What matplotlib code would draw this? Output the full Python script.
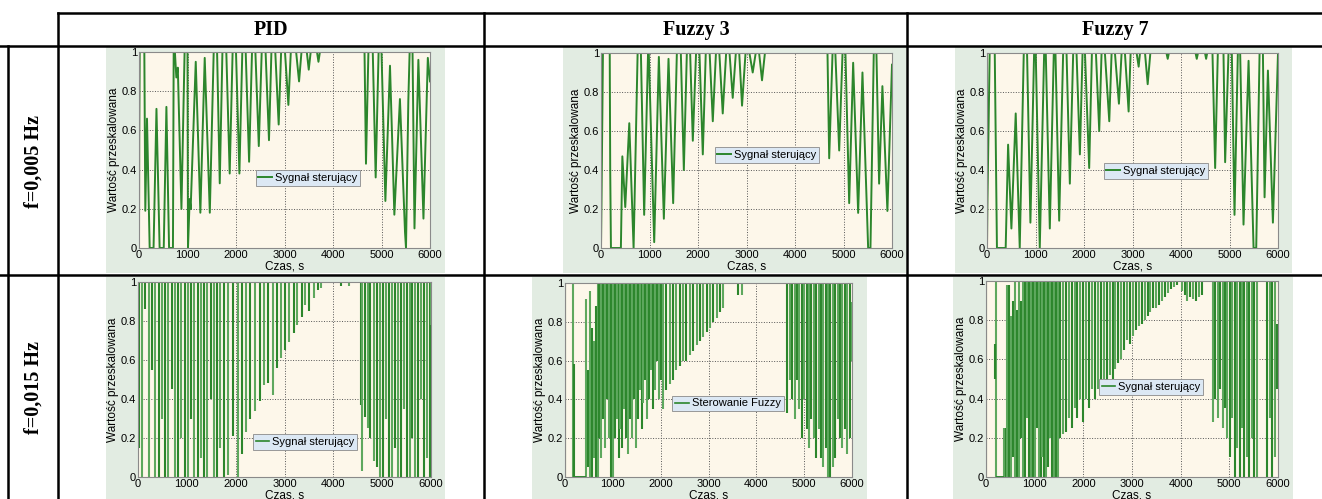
import matplotlib.pyplot as plt
from matplotlib.patches import Rectangle

col_titles = ['PID', 'Fuzzy 3', 'Fuzzy 7']
row_titles = ['f=0,005 Hz', 'f=0,015 Hz']
legend_labels = ['Sygnał sterujący', 'Sygnał sterujący', 'Sygnał sterujący',
                 'Sygnał sterujący', 'Sterowanie Fuzzy', 'Sygnał sterujący']
x_ticks = [0, 1000, 2000, 3000, 4000, 5000, 6000]
y_ticks = [0, 0.2, 0.4, 0.6, 0.8, 1]
y_tick_labels = ['0', '0.2', '0.4', '0.6', '0.8', '1']

# f = 0.005 Hz, signal vertices (time s, value)
pid_005_t = [0, 5, 15, 110, 130, 165, 220, 300, 360, 425, 510, 565, 620, 700, 715, 740, 770, 800, 875, 940,
             1000, 1010, 1045, 1065, 1170, 1265, 1355, 1460, 1540, 1610, 1665, 1720, 1800, 1870, 1930, 2000,
             2070, 2130, 2200, 2270, 2330, 2400, 2470, 2530, 2610, 2680, 2730, 2810, 2880, 2930, 3010, 3080,
             3130, 3240, 3300, 3350, 3460, 3500, 3540, 3670, 3700, 3730, 4650, 4680, 4730, 4820, 4880, 4940,
             5000, 5080, 5175, 5265, 5380, 5485, 5505, 5553, 5580, 5640, 5680, 5760, 5865, 5955, 6000]
pid_005_y = [0, 0.55, 1, 1, 0.19, 0.66, 0, 0, 0.71, 0, 0, 0.72, 0, 0, 1, 1, 0.87, 0.92, 0.2, 1,
             1, 0, 0.25, 0.2, 0.95, 0.18, 0.97, 0.18, 1, 1, 0.33, 1, 1, 0.38, 1, 1,
             0.38, 1, 1, 0.44, 1, 1, 0.52, 1, 1, 0.55, 1, 1, 0.63, 1, 1, 0.73,
             1, 1, 0.85, 1, 1, 0.91, 1, 1, 0.95, 1, 1, 0.43, 1, 1, 0.36, 1,
             1, 0.24, 0.93, 0.17, 0.76, 0.08, 0, 0.75, 1, 1, 0.1, 0.96, 0.15, 0.97, 0.85]

fz3_005_t = [0, 10, 40, 180, 190, 205, 410, 440, 500, 583, 672, 755, 823, 890, 970, 985, 1097, 1193, 1296, 1392,
             1488, 1564, 1646, 1708, 1770, 1838, 1893, 1960, 2030, 2099, 2160, 2240, 2305, 2370, 2440, 2510,
             2580, 2650, 2716, 2780, 2850, 2908, 2980, 3060, 3128, 3190, 3260, 3320, 3380, 4670, 4705, 4774,
             4832, 4911, 4980, 5040, 5117, 5199, 5302, 5391, 5508, 5556, 5624, 5679, 5734, 5802, 5905, 6000]
fz3_005_y = [0, 0.23, 1, 1, 0.4, 0, 0, 0.47, 0.21, 0.64, 0, 1, 1, 0.17, 1, 1, 0.03, 0.98, 0.15, 0.97,
             0.23, 1, 1, 0.4, 1, 1, 0.55, 1, 1, 0.48, 1, 1, 0.65, 1, 1, 0.69,
             1, 1, 0.77, 1, 1, 0.73, 1, 1, 0.9, 1, 1, 0.86, 1, 1, 0.46, 1,
             1, 0.5, 1, 1, 0.23, 0.95, 0.18, 0.9, 0, 0, 1, 1, 0.33, 0.83, 0.19, 0.94]

fz7_005_t = [0, 10, 55, 160, 205, 385, 435, 503, 592, 675, 758, 826, 895, 971, 1005, 1088, 1178, 1212, 1295, 1377,
             1412, 1488, 1570, 1640, 1708, 1777, 1846, 1915, 1970, 2020, 2107, 2163, 2246, 2314, 2362, 2431,
             2521, 2569, 2638, 2720, 2775, 2844, 2920, 2961, 3085, 3127, 3155, 3258, 3313, 3368, 3700, 3726,
             3750, 4300, 4325, 4350, 4495, 4518, 4540, 4649, 4704, 4759, 4876, 4910, 4979, 5048, 5103, 5172,
             5220, 5289, 5393, 5496, 5551, 5620, 5689, 5723, 5792, 5895, 6000]
fz7_005_y = [0, 0.25, 1, 1, 0, 0, 0.53, 0.1, 0.69, 0, 1, 1, 0.13, 1, 1, 0, 1, 1, 0.1, 1,
             1, 0.14, 1, 1, 0.33, 1, 1, 0.48, 1, 1, 0.41, 1, 1, 0.6, 1, 1,
             0.65, 1, 1, 0.74, 1, 1, 0.7, 1, 1, 0.93, 1, 1, 0.84, 1, 1, 0.97,
             1, 1, 0.97, 1, 1, 0.97, 1, 1, 0.41, 1, 1, 0.44, 1, 1, 0.17, 1,
             1, 0.12, 0.96, 0, 0, 1, 1, 0.26, 0.91, 0.13, 1]

# f = 0.015 Hz, swings (time s, low, high) and flat parts (value, from, to)
pid_015_t = [20, 87, 153, 220, 287, 353, 420, 487, 553, 620, 687, 753, 820, 887, 953, 1020, 1087, 1153,
             1220, 1287, 1353, 1420, 1487, 1553, 1620, 1687, 1753, 1850, 1955, 2040, 2120, 2210, 2300,
             2390, 2490, 2590, 2670, 2760, 2840, 2930, 3010, 3100, 3190, 3260, 3350, 3430, 3510, 3600,
             3690, 3750, 4150, 4330, 4560, 4590, 4645, 4700, 4760, 4830, 4890, 4960, 5020, 5080, 5140,
             5200, 5260, 5320, 5380, 5440, 5500, 5560, 5620, 5680, 5740, 5800, 5860, 5920, 5970, 6000]
pid_015_lo = [0.15, 0, 0.86, 0, 0.55, 0, 0, 0.3, 0, 0, 0.45, 0, 0, 0.2, 0, 0, 0.3, 0,
              0, 0.1, 0, 0, 0.4, 0, 0, 0.15, 0, 0.01, 0.21, 0, 0.12, 0.23, 0.3,
              0.34, 0.39, 0.47, 0.48, 0.42, 0.56, 0.61, 0.65, 0.69, 0.74, 0.78, 0.82, 0.88, 0.85, 0.92,
              0.96, 0.97, 0.98, 0.98, 0.37, 0.03, 0.31, 0.25, 0.2, 0.08, 0.05, 0, 0, 0.3, 0,
              0, 0.15, 0, 0, 0.35, 0, 0, 0.2, 0, 0, 0.4, 0, 0.1, 0, 0.78]
pid_015_hi = [1] * len(pid_015_t)
pid_015_flat = [(1, 0, 6000)]

fz3_015_t = [0, 170, 190, 440, 480, 520, 560, 600, 640, 680, 720, 760, 800, 840, 880, 920, 960, 1000,
             1040, 1080, 1120, 1160, 1200, 1240, 1280, 1320, 1360, 1400, 1440, 1480, 1520, 1560, 1600,
             1640, 1680, 1720, 1760, 1800, 1840, 1880, 1920, 1960, 2000, 2050, 2120, 2190, 2260, 2330,
             2400, 2470, 2540, 2610, 2680, 2750, 2820, 2890, 2960, 3030, 3100, 3170, 3240, 3310, 3620,
             3700, 4650, 4700, 4750, 4800, 4850, 4900, 4950, 5000, 5050, 5100, 5150, 5200, 5250, 5300,
             5350, 5400, 5450, 5500, 5550, 5600, 5650, 5700, 5750, 5800, 5850, 5900, 5950, 6000]
fz3_015_lo = [0, 0, 0, 0, 0.05, 0, 0, 0.1, 0, 0, 0.2, 0.1, 0.3, 0.15, 0.4, 0.2, 0, 0,
              0.2, 0.3, 0.1, 0.25, 0.15, 0.35, 0.2, 0.12, 0.3, 0.2, 0.4, 0.15, 0.3, 0.45, 0.25,
              0.38, 0.5, 0.3, 0.4, 0.55, 0.35, 0.45, 0.6, 0.4, 0.5, 0.35, 0.45, 0.48, 0.5, 0.55,
              0.57, 0.6, 0.6, 0.63, 0.65, 0.68, 0.7, 0.72, 0.75, 0.77, 0.8, 0.82, 0.85, 0.87, 0.94,
              0.94, 0.33, 0.5, 0.4, 0.3, 0.5, 0.35, 0.2, 0.4, 0.25, 0.15, 0.3, 0.2, 0.1, 0.25,
              0.1, 0.05, 0.15, 0, 0, 0.05, 0.1, 0.3, 0.2, 0.15, 0.25, 0.12, 0.2, 0.6]
fz3_015_hi = [1, 1, 0.58, 0.92, 0.55, 0.96, 0.77, 0.7, 0.88, 1, 1, 1, 1, 1, 1, 1, 1, 1,
              1, 1, 1, 1, 1, 1, 1, 1, 1, 1, 1, 1, 1, 1, 1,
              1, 1, 1, 1, 1, 1, 1, 1, 1, 1, 1, 1, 1, 1, 1,
              1, 1, 1, 1, 1, 1, 1, 1, 1, 1, 1, 1, 1, 1, 1,
              1, 1, 1, 1, 1, 1, 1, 1, 1, 1, 1, 1, 1, 1, 1,
              1, 1, 1, 1, 1, 1, 1, 1, 1, 1, 1, 1, 1, 0.9]
fz3_015_flat = [(1, 0, 170), (0, 170, 440), (1, 680, 6000)]

fz7_015_t = [0, 200, 175, 380, 410, 440, 480, 520, 560, 600, 640, 680, 720, 760, 800, 840, 880, 920,
             960, 1000, 1040, 1080, 1120, 1160, 1200, 1240, 1280, 1320, 1360, 1400, 1440, 1480, 1520,
             1580, 1640, 1700, 1760, 1820, 1880, 1940, 2000, 2060, 2120, 2180, 2240, 2300, 2360, 2420,
             2480, 2540, 2600, 2660, 2720, 2780, 2840, 2900, 2960, 3020, 3080, 3140, 3200, 3260, 3320,
             3380, 3440, 3500, 3560, 3620, 3680, 3740, 3800, 3860, 3920, 4020, 4080, 4140, 4200, 4260,
             4320, 4380, 4440, 4660, 4710, 4760, 4810, 4860, 4910, 4960, 5010, 5060, 5110, 5160, 5210,
             5260, 5310, 5360, 5410, 5460, 5510, 5560, 5780, 5830, 5880, 5930, 5980]
fz7_015_lo = [0, 0, 0.5, 0, 0, 0, 0, 0, 0.1, 0, 0, 0, 0.2, 0, 0, 0.3, 0, 0,
              0, 0, 0.25, 0, 0, 0.1, 0, 0, 0.05, 0.2, 0, 0, 0, 0, 0.2,
              0.22, 0.23, 0.3, 0.25, 0.35, 0.3, 0.4, 0.28, 0.4, 0.35, 0.45, 0.4, 0.45, 0.42, 0.5,
              0.48, 0.52, 0.5, 0.55, 0.58, 0.6, 0.65, 0.7, 0.68, 0.72, 0.75, 0.77, 0.78, 0.8, 0.82,
              0.84, 0.86, 0.86, 0.88, 0.9, 0.92, 0.94, 0.96, 0.97, 0.98, 0.95, 0.93, 0.9, 0.92, 0.91,
              0.9, 0.92, 0.93, 0.28, 0.4, 0.3, 0.45, 0.25, 0.35, 0.2, 0.1, 0.3, 0, 0.15, 0,
              0.25, 0, 0.1, 0, 0.2, 0, 0, 0, 0.3, 0, 0.1, 0.45]
fz7_015_hi = [1, 1, 0.68, 0.25, 0.25, 0.98, 0.98, 0.82, 0.9, 1, 0.85, 1, 0.9, 1, 1, 1, 1, 1,
              1, 1, 1, 1, 1, 1, 1, 1, 1, 1, 1, 1, 1, 1, 1,
              1, 1, 1, 1, 1, 1, 1, 1, 1, 1, 1, 1, 1, 1, 1,
              1, 1, 1, 1, 1, 1, 1, 1, 1, 1, 1, 1, 1, 1, 1,
              1, 1, 1, 1, 1, 1, 1, 1, 1, 1, 1, 1, 1, 1, 1,
              1, 1, 1, 1, 1, 1, 1, 1, 1, 1, 1, 1, 1, 1, 1,
              1, 1, 1, 1, 1, 1, 1, 1, 1, 1, 1, 0.78]
fz7_015_flat = [(1, 0, 200), (0, 200, 380), (1, 700, 6000)]

# pixel boxes: (left, top, right, bottom)
bg_boxes = [(106, 47, 445, 273), (563, 47, 906, 273), (955, 47, 1292, 273),
            (106, 277, 445, 499), (532, 277, 867, 499), (953, 277, 1293, 499)]
ax_boxes = [(139, 52, 430, 248), (601, 53, 892, 248), (987, 53, 1278, 248),
            (138, 282, 431, 477), (565, 283, 852, 477), (986, 281, 1278, 477)]
legend_pos = [(0.58, 0.357), (0.57, 0.477), (0.58, 0.395),
              (0.57, 0.18), (0.568, 0.379), (0.565, 0.46)]

W, H = 1322, 499
green = '#2c862c'
light_green = '#5ea85e'

fig = plt.figure(figsize=(W / 100, H / 100), dpi=100)
fig.patch.set_facecolor('white')

# table frame drawn in pixel space
tab = fig.add_axes([0, 0, 1, 1], zorder=0)
tab.set_xlim(0, W)
tab.set_ylim(H, 0)
tab.axis('off')
lw = 1.8
tab.plot([58, W], [13, 13], color='black', lw=lw)
tab.plot([0, W], [46, 46], color='black', lw=lw)
tab.plot([0, W], [275, 275], color='black', lw=lw)
tab.plot([8, 8], [46, H], color='black', lw=lw)
for xv in [58, 484, 907]:
    tab.plot([xv, xv], [13, H], color='black', lw=lw)

for xc, title in zip([271, 696, 1115], col_titles):
    tab.text(xc, 30, title, ha='center', va='center', fontsize=14.5,
             fontweight='bold', family='Liberation Serif')
for yc, title in zip([161, 388], row_titles):
    tab.text(34, yc, title, ha='center', va='center', fontsize=14.5, rotation=90,
             fontweight='bold', family='Liberation Serif')

for (l, t, r, b) in bg_boxes:
    tab.add_patch(Rectangle((l, t), r - l, b - t, facecolor='#e2ece2', edgecolor='none'))

row1 = [(pid_005_t, pid_005_y), (fz3_005_t, fz3_005_y), (fz7_005_t, fz7_005_y)]
row2 = [(pid_015_t, pid_015_lo, pid_015_hi, pid_015_flat),
        (fz3_015_t, fz3_015_lo, fz3_015_hi, fz3_015_flat),
        (fz7_015_t, fz7_015_lo, fz7_015_hi, fz7_015_flat)]

for i, (l, t, r, b) in enumerate(ax_boxes):
    ax = fig.add_axes([l / W, 1 - b / H, (r - l) / W, (b - t) / H], zorder=1)
    ax.set_facecolor('#fdf7ea')
    if i < 3:
        xs, ys = row1[i]
        line, = ax.plot(xs, ys, color=green, lw=1.4)
    else:
        xs, lo, hi, flats = row2[i - 3]
        cols = [green if k % 2 == 0 else light_green for k in range(len(xs))]
        ax.vlines(xs, lo, hi, colors=cols, lw=1.5)
        for val, a, c in flats:
            ax.hlines(val, a, c, color=green, lw=1.4)
        line, = ax.plot([], [], color=green, lw=1.2)
    ax.set_xlim(0, 6000)
    ax.set_ylim(0, 1)
    ax.set_xticks(x_ticks)
    ax.set_yticks(y_ticks)
    ax.set_yticklabels(y_tick_labels)
    ax.grid(True, color='#555555', ls=':', lw=0.7)
    ax.tick_params(length=0, labelsize=8, pad=1.5)
    for s in ax.spines.values():
        s.set_color('#8a8a8a')
        s.set_linewidth(0.8)
    for lab in ax.get_xticklabels() + ax.get_yticklabels():
        lab.set_family('Liberation Sans')
    ax.set_xlabel('Czas, s', fontsize=8.5, family='Liberation Sans', labelpad=0)
    ax.set_ylabel('Wartość przeskalowana', fontsize=8.5, family='Liberation Sans', labelpad=1)
    leg = ax.legend([line], [legend_labels[i]], loc='center', bbox_to_anchor=legend_pos[i],
                    handlelength=1.2, handletextpad=0.3, borderpad=0.25,
                    fancybox=False, framealpha=1, prop={'family': 'Liberation Sans', 'size': 8})
    leg.get_frame().set_facecolor('#dce8f4')
    leg.get_frame().set_edgecolor('#8a8a8a')
    leg.get_frame().set_linewidth(0.6)

fig.savefig('out.png', dpi=100)
